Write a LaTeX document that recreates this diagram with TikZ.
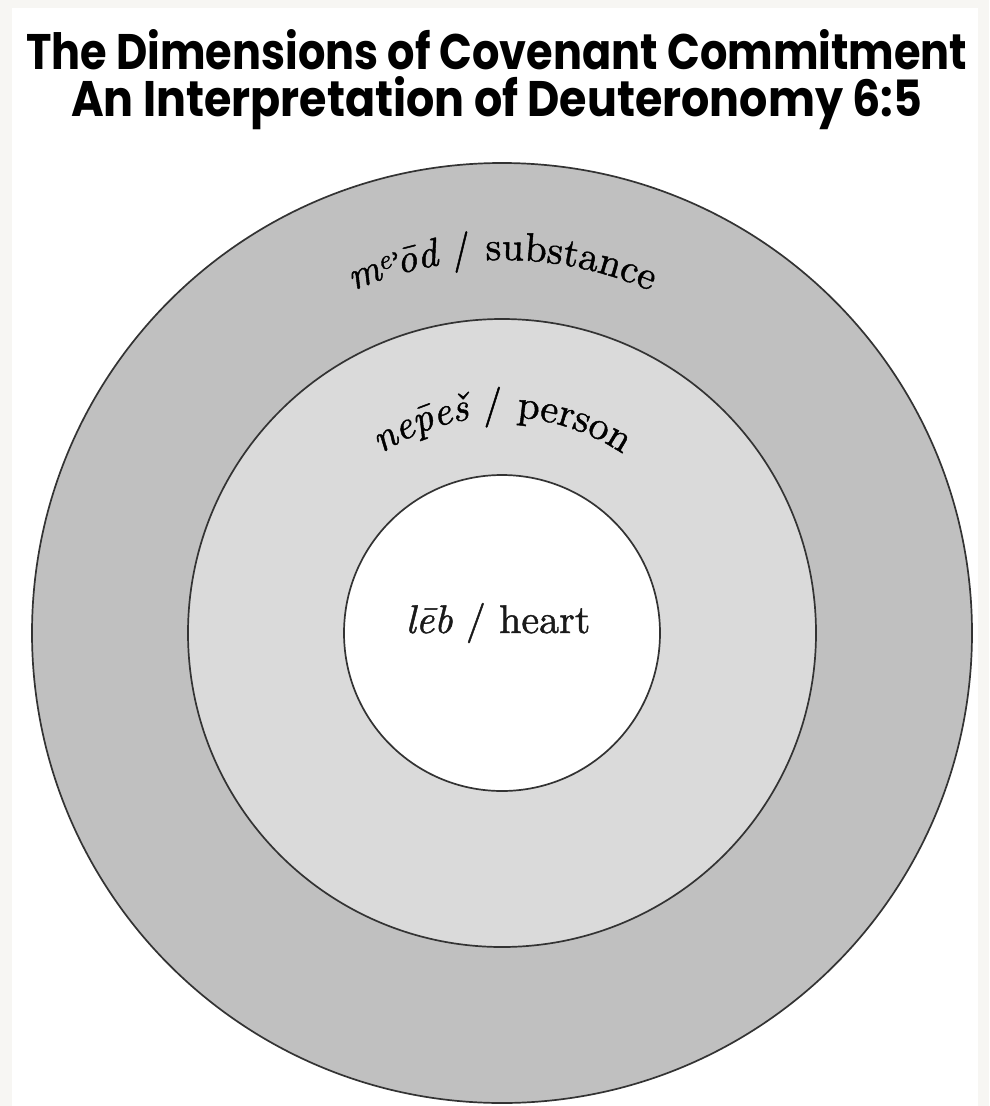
\documentclass[tikz,border=0pt]{standalone}
\usepackage{fontspec}
\usepackage{graphicx}
\usetikzlibrary{decorations.text,calc}
\newfontfamily\titlefont{Poppins}
\newfontfamily\dejavuserif{DejaVu Serif}[RawFeature={embolden=1.5}]
\newfontfamily\ringfont{lmroman10-regular.otf}[ItalicFont=lmroman10-italic.otf, RawFeature={embolden=1.1}]
\newcommand\ringit{\ringfont\fontsize{40}{47}\selectfont\itshape}
\newcommand\ringup{\ringfont\fontsize{40}{47}\selectfont\upshape}
\definecolor{pageoff}{HTML}{F7F6F3}
\definecolor{ringout}{HTML}{C0C0C0}
\definecolor{ringmid}{HTML}{DADADA}
\definecolor{ringline}{HTML}{333333}
\definecolor{labelink}{HTML}{1A1A1A}
\begin{document}
\begin{tikzpicture}[x=1pt,y=1pt,
  ring/.style={circle, draw=ringline, line width=1.7pt, inner sep=0pt},
  titleline/.style={anchor=base west, inner sep=0pt, text=black},
  arclabel/.style={decorate, labelink}]
\useasboundingbox (0,0) rectangle (989,-1106);
\fill[pageoff] (0,0) rectangle (989,-1106);
\fill[white] (12,-8) rectangle (978,-1106);
\coordinate (c) at (502,-633);
\node[ring, fill=ringout, minimum size=940pt] (outer) at (c) {};
\node[ring, fill=ringmid, minimum size=628pt] (middle) at (c) {};
\node[ring, fill=white, minimum size=316pt] (inner) at (c) {};
\node[titleline] (title1) at (26,-69) {\resizebox{941pt}{40pt}{\titlefont\bfseries The Dimensions of Covenant Commitment}};
\node[titleline] (title2) at (71,-116) {\resizebox{851pt}{40pt}{\titlefont\bfseries An Interpretation of Deuteronomy 6:5}};
\path[arclabel, decoration={text along path, text align=center,
  text={|\ringit|m{\kern-1pt\textsuperscript{e}\kern-1pt{\fontsize{30}{32}\selectfont\dejavuserif ʾ}\kern-4pt}ōd|\ringup| / substance}}]
  ($(c)+(160:373)$) arc[start angle=160, end angle=20, radius=373];
\path[arclabel, decoration={text along path, text align=center,
  text={|\ringit|ne{\accent"AF p}eš|\ringup| / person}}]
  ($(c)+(165:216)$) arc[start angle=165, end angle=15, radius=216];
\node[anchor=base, inner sep=0pt, text=labelink] (heart) at (498,-633) {\ringup\textit{lēb} / heart};
\end{tikzpicture}
\end{document}
